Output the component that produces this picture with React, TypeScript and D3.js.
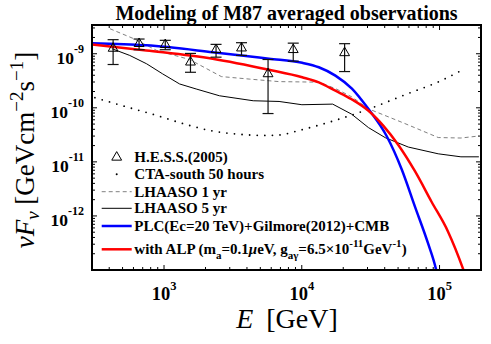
import React from 'react';
import * as d3 from 'd3';

// H.E.S.S. (2005) points, GeV and GeV cm^-2 s^-1
const hessE = [427, 659, 1021, 1556, 2386, 3651, 5690, 8670, 20460];
const hessF = [1.255e-9, 1.535e-9, 1.47e-9, 6.98e-10, 1.187e-9, 1.27e-9, 4.24e-10, 1.187e-9, 1.04e-9];
const hessLo = [6.32e-10, 1.187e-9, 1.187e-9, 4.54e-10, 8.64e-10, 9.3e-10, 7.83e-11, 7.28e-10, 4.68e-10];
const hessHi = [1.82e-9, 1.87e-9, 1.77e-9, 1.013e-9, 1.49e-9, 1.6e-9, 7.83e-10, 1.57e-9, 1.535e-9];

// CTA-south 50 hours sensitivity
const ctaE = [315, 502, 855, 1480, 2244, 3515, 5325, 6840, 9690, 17000, 30500, 56400, 102600, 153000];
const ctaF = [1.54e-10, 1.09e-10, 7.41e-11, 4.83e-11, 3.73e-11, 3.24e-11, 3.08e-11, 3.14e-11, 3.85e-11, 5.73e-11, 9.46e-11, 1.75e-10, 3.18e-10, 5.32e-10];

// LHAASO 1 yr
const lh1E = [405, 593, 885, 1531, 2606, 4150, 6840, 13290, 17600, 23000, 30500, 54600, 97800, 143000, 193000];
const lh1F = [2.9e-9, 1.93e-9, 1.15e-9, 7.83e-10, 3.78e-10, 3.4e-10, 3.05e-10, 2.98e-10, 2.26e-10, 1.6e-10, 9.57e-11, 5.26e-11, 2.82e-11, 2.76e-11, 3.01e-11];

// LHAASO 5 yr
const lh5E = [418, 564, 748, 977, 1297, 1711, 2523, 4440, 6840, 10020, 16760, 23000, 30500, 40400, 59300, 97800, 143000, 193000];
const lh5F = [1.24e-9, 9.3e-10, 6.51e-10, 4.24e-10, 2.76e-10, 2.23e-10, 1.67e-10, 1.35e-10, 1.31e-10, 1.14e-10, 1.17e-10, 7.63e-11, 4.3e-11, 2.8e-11, 1.88e-11, 1.41e-11, 1.24e-11, 1.24e-11];

// PLC(Ec=20 TeV)+Gilmore(2012)+CMB
const plcE = [300, 745, 2254, 5780, 10070, 13290, 17540, 23120, 30500, 41300, 53100, 66300, 82700, 94000, 100000];
const plcF = [1.57e-9, 1.43e-9, 1.07e-9, 8.07e-10, 6.8e-10, 5.63e-10, 3.94e-10, 2.26e-10, 9.46e-11, 3.01e-11, 7.31e-12, 1.49e-12, 3.06e-13, 1.06e-13, 5e-14];

// with ALP
const alpE = [300, 745, 2254, 5780, 10070, 13290, 17540, 23000, 30500, 39140, 50230, 66300, 87300, 115300, 148000, 160000];
const alpF = [1.49e-9, 1.15e-9, 8.07e-10, 5.04e-10, 3.67e-10, 2.96e-10, 2.07e-10, 1.44e-10, 8.8e-11, 4.62e-11, 2.05e-11, 6.71e-12, 1.85e-12, 5.12e-13, 1.06e-13, 6e-14];

const xMajor = [1e3, 1e4, 1e5];
const xMajorExp = ['3', '4', '5'];
const yMajor = [1e-9, 1e-10, 1e-11, 1e-12];
const yMajorExp = ['-9', '-10', '-11', '-12'];

const W = 491, H = 344;
const left = 92, right = 481, top = 25, bottom = 270;
const serif = '"Liberation Serif", "Times New Roman", serif';

export default function App() {
  const x = d3.scaleLog().domain([300, 2e5]).range([left, right]);
  const y = d3.scaleLog().domain([1e-13, 3.4e-9]).range([bottom, top]);

  const pts = (es: number[], fs: number[]) => es.map((e, i) => [e, fs[i]] as [number, number]);
  const smooth = d3.line<[number, number]>().x(d => x(d[0])).y(d => y(d[1])).curve(d3.curveMonotoneX);
  const straight = d3.line<[number, number]>().x(d => x(d[0])).y(d => y(d[1]));

  // minor ticks
  const xMinor: number[] = [];
  for (let p = 100; p <= 1e5; p *= 10) for (let k = 2; k <= 9; k++) { const v = k * p; if (v > 300 && v < 2e5) xMinor.push(v); }
  const yMinor: number[] = [];
  for (let p = 1e-13; p <= 1e-9; p *= 10) for (let k = 2; k <= 9; k++) { const v = k * p; if (v < 3.4e-9) yMinor.push(v); }

  const tri = d3.symbol().type(d3.symbolTriangle).size(42)();

  const legendRows = [
    { y: 162.3, kind: 'tri' },
    { y: 179.3, kind: 'dot' },
    { y: 196.7, kind: 'dash' },
    { y: 213.3, kind: 'solid' },
    { y: 231, kind: 'blue' },
    { y: 254.3, kind: 'red' },
  ];

  return (
    <svg width={W} height={H} style={{ position: 'absolute', left: 0, top: 0, background: '#fff' }} fontFamily={serif}>
      <defs>
        <clipPath id="plotclip">
          <rect x={left} y={top} width={right - left} height={bottom - top} />
        </clipPath>
      </defs>
      <rect x={0} y={0} width={W} height={H} fill="#fff" />

      {/* title */}
      <text x={(left + right) / 2} y={20} textAnchor="middle" fontWeight="bold" fontSize={20}>Modeling of M87 averaged observations</text>

      <g clipPath="url(#plotclip)">
        <path d={smooth(pts(ctaE, ctaF)) || ''} fill="none" stroke="#000" strokeWidth={1.8} strokeDasharray="0 7.6" strokeLinecap="round" />
        <path d={straight(pts(lh1E, lh1F)) || ''} fill="none" stroke="#808080" strokeWidth={1} strokeDasharray="4 3" />
        <path d={straight(pts(lh5E, lh5F)) || ''} fill="none" stroke="#000" strokeWidth={1} />
        <path d={smooth(pts(plcE, plcF)) || ''} fill="none" stroke="#0000ff" strokeWidth={2.5} />
        <path d={smooth(pts(alpE, alpF)) || ''} fill="none" stroke="#ff0000" strokeWidth={2.5} />

        {hessE.map((e, i) => (
          <g key={i} stroke="#111" strokeWidth={1.2}>
            <line x1={x(e)} x2={x(e)} y1={y(hessHi[i])} y2={y(hessLo[i])} />
            <line x1={x(e) - 5.5} x2={x(e) + 5.5} y1={y(hessHi[i])} y2={y(hessHi[i])} />
            <line x1={x(e) - 5.5} x2={x(e) + 5.5} y1={y(hessLo[i])} y2={y(hessLo[i])} />
            <path d={tri || ''} transform={`translate(${x(e)},${y(hessF[i])})`} fill="none" stroke="#000" strokeWidth={1} />
          </g>
        ))}
      </g>

      {/* ticks */}
      <g stroke="#000" strokeWidth={1}>
        {xMajor.map(v => (
          <g key={'xm' + v}>
            <line x1={x(v)} x2={x(v)} y1={bottom} y2={bottom - 5} />
            <line x1={x(v)} x2={x(v)} y1={top} y2={top + 5} />
          </g>
        ))}
        {xMinor.map(v => (
          <g key={'xn' + v}>
            <line x1={x(v)} x2={x(v)} y1={bottom} y2={bottom - 3} />
            <line x1={x(v)} x2={x(v)} y1={top} y2={top + 3} />
          </g>
        ))}
        {yMajor.map(v => (
          <g key={'ym' + v}>
            <line x1={left} x2={left + 5} y1={y(v)} y2={y(v)} />
            <line x1={right} x2={right - 5} y1={y(v)} y2={y(v)} />
          </g>
        ))}
        {yMinor.map(v => (
          <g key={'yn' + v}>
            <line x1={left} x2={left + 3} y1={y(v)} y2={y(v)} />
            <line x1={right} x2={right - 3} y1={y(v)} y2={y(v)} />
          </g>
        ))}
      </g>
      <rect x={left} y={top} width={right - left} height={bottom - top} fill="none" stroke="#000" strokeWidth={2} />

      {/* tick labels */}
      {xMajor.map((v, i) => (
        <text key={'xl' + v} x={x(v)} y={300} textAnchor="middle" fontWeight="bold" fontSize={18.5}>
          <tspan>10</tspan><tspan dy={-10} fontSize={12.5}>{xMajorExp[i]}</tspan>
        </text>
      ))}
      {yMajor.map((v, i) => (
        <text key={'yl' + v} x={84} y={y(v) + 10.5} textAnchor="end" fontWeight="bold" fontSize={17.5}>
          <tspan>10</tspan><tspan dy={-11.5} fontSize={12}>{yMajorExp[i]}</tspan>
        </text>
      ))}

      {/* axis labels */}
      <text x={287} y={328} textAnchor="middle" fontSize={28}>
        <tspan fontStyle="italic">E</tspan><tspan dx={6}> [GeV]</tspan>
      </text>
      <text transform="translate(34,150) rotate(-90)" textAnchor="middle" fontSize={27}>
        <tspan fontStyle="italic">νF</tspan><tspan fontStyle="italic" fontSize={19} dy={5}>ν</tspan>
        <tspan dy={-5}> [GeVcm</tspan><tspan fontSize={19} dy={-11}>−2</tspan>
        <tspan dy={11}>s</tspan><tspan fontSize={19} dy={-11}>−1</tspan><tspan dy={11}>]</tspan>
      </text>

      {/* legend */}
      {legendRows.map((r, i) => {
        const ly = r.y - 5;
        if (r.kind === 'tri') return <path key={i} d={tri || ''} transform={`translate(116.7,${ly})`} fill="none" stroke="#000" strokeWidth={1} />;
        if (r.kind === 'dot') return <circle key={i} cx={116.7} cy={ly} r={1} fill="#000" />;
        const stroke = r.kind === 'blue' ? '#0000ff' : r.kind === 'red' ? '#ff0000' : r.kind === 'dash' ? '#808080' : '#000';
        const sw = r.kind === 'blue' || r.kind === 'red' ? 2.5 : 1;
        return <line key={i} x1={101.7} x2={131.7} y1={ly} y2={ly} stroke={stroke} strokeWidth={sw} strokeDasharray={r.kind === 'dash' ? '4 3' : undefined} />;
      })}
      <g fontWeight="bold" fontSize={15}>
        <text x={134.3} y={162.3}>H.E.S.S.(2005)</text>
        <text x={134.3} y={179.3}>CTA-south 50 hours</text>
        <text x={134.3} y={196.7}>LHAASO 1 yr</text>
        <text x={134.3} y={213.3}>LHAASO 5 yr</text>
        <text x={134.3} y={231}>PLC(Ec=20 TeV)+Gilmore(2012)+CMB</text>
        <text x={134.3} y={254.3}>
          <tspan>with ALP (m</tspan><tspan fontSize={11} dy={5}>a</tspan>
          <tspan dy={-5}>=0.1</tspan><tspan fontStyle="italic">μ</tspan><tspan>eV, g</tspan>
          <tspan fontSize={11} dy={5}>aγ</tspan><tspan dy={-5}>=6.5×10</tspan>
          <tspan fontSize={11} dy={-7}>-11</tspan><tspan dy={7}>GeV</tspan>
          <tspan fontSize={11} dy={-7}>-1</tspan><tspan dy={7}>)</tspan>
        </text>
      </g>
    </svg>
  );
}
